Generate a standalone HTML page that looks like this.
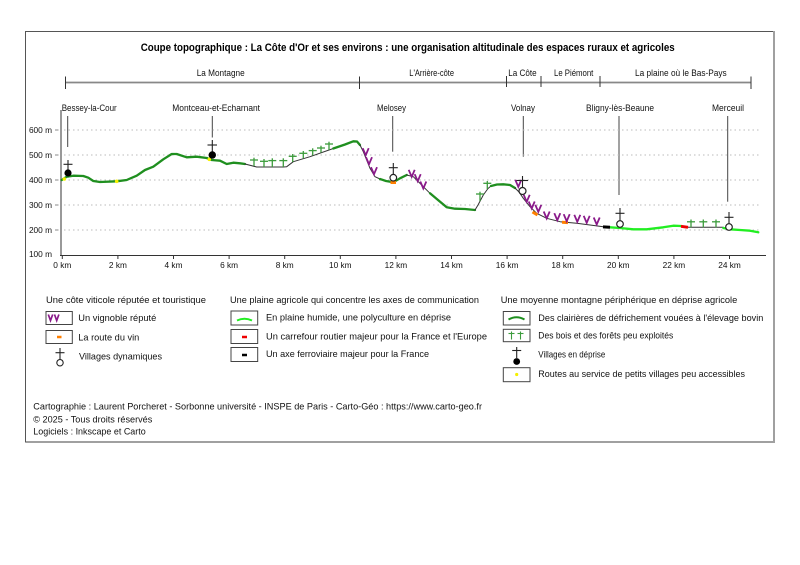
<!DOCTYPE html>
<html><head><meta charset="utf-8"><style>
html,body{margin:0;padding:0;background:#fff;}
svg{display:block;}
text{font-family:"Liberation Sans",sans-serif;fill:#111;}
</style></head><body>
<svg width="800" height="565" viewBox="0 0 800 565" xmlns="http://www.w3.org/2000/svg">
<rect x="0" y="0" width="800" height="565" fill="#fff"/>
<!-- frame -->
<rect x="25.5" y="31.5" width="748" height="410.5" fill="none" stroke="#555" stroke-width="1"/>
<line x1="26" y1="442" x2="774.5" y2="442" stroke="#a0a0a0" stroke-width="2"/>
<line x1="774" y1="31" x2="774" y2="443" stroke="#a0a0a0" stroke-width="2"/>

<!-- title -->
<text x="140.7" y="51" font-size="11" font-weight="bold" textLength="534" lengthAdjust="spacingAndGlyphs" style="fill:#000">Coupe topographique : La Côte d'Or et ses environs : une organisation altitudinale des espaces ruraux et agricoles</text>

<!-- top bar -->
<line x1="65" y1="82.5" x2="751" y2="82.5" stroke="#888" stroke-width="1.8"/>
<g stroke="#333" stroke-width="1">
<line x1="65.5" y1="76.5" x2="65.5" y2="89"/>
<line x1="359.5" y1="76.5" x2="359.5" y2="89"/>
<line x1="506.5" y1="76" x2="506.5" y2="87"/>
<line x1="541" y1="76" x2="541" y2="87"/>
<line x1="600" y1="76" x2="600" y2="87"/>
<line x1="751" y1="76.5" x2="751" y2="89"/>
</g>
<g font-size="9">
<text x="196.7" y="76" textLength="48" lengthAdjust="spacingAndGlyphs">La Montagne</text>
<text x="409.3" y="76" textLength="44.7" lengthAdjust="spacingAndGlyphs">L'Arrière-côte</text>
<text x="508.3" y="76" textLength="28.3" lengthAdjust="spacingAndGlyphs">La Côte</text>
<text x="554" y="76" textLength="39.3" lengthAdjust="spacingAndGlyphs">Le Piémont</text>
<text x="635" y="76" textLength="91.7" lengthAdjust="spacingAndGlyphs">La plaine où le Bas-Pays</text>
</g>

<!-- village labels -->
<g font-size="9">
<text x="61.7" y="111" textLength="55" lengthAdjust="spacingAndGlyphs">Bessey-la-Cour</text>
<text x="172.3" y="111" textLength="87.7" lengthAdjust="spacingAndGlyphs">Montceau-et-Echarnant</text>
<text x="377" y="111" textLength="29" lengthAdjust="spacingAndGlyphs">Melosey</text>
<text x="511" y="111" textLength="24" lengthAdjust="spacingAndGlyphs">Volnay</text>
<text x="586" y="111" textLength="68" lengthAdjust="spacingAndGlyphs">Bligny-lès-Beaune</text>
<text x="712" y="111" textLength="32" lengthAdjust="spacingAndGlyphs">Merceuil</text>
</g>
<g stroke="#444" stroke-width="1">
<line x1="67.7" y1="116" x2="67.7" y2="147"/>
<line x1="212.3" y1="116" x2="212.3" y2="137.5"/>
<line x1="392.7" y1="116" x2="392.7" y2="151.7"/>
<line x1="523.3" y1="116" x2="523.3" y2="156.7"/>
<line x1="619" y1="116" x2="619" y2="195"/>
<line x1="727.7" y1="116" x2="727.7" y2="201.7"/>
</g>

<!-- grid -->
<g stroke="#bbb" stroke-width="1" stroke-dasharray="1.5,3">
<line x1="64" y1="130" x2="760" y2="130"/>
<line x1="64" y1="155" x2="760" y2="155"/>
<line x1="64" y1="180" x2="760" y2="180"/>
<line x1="64" y1="205" x2="760" y2="205"/>
<line x1="64" y1="230" x2="760" y2="230"/>
</g>
<!-- axes -->
<line x1="61" y1="110" x2="61" y2="256" stroke="#999" stroke-width="2"/>
<line x1="60" y1="255.5" x2="766" y2="255.5" stroke="#333" stroke-width="1"/>
<g stroke="#888" stroke-width="1">
<line x1="55" y1="130" x2="58.5" y2="130"/>
<line x1="55" y1="155" x2="58.5" y2="155"/>
<line x1="55" y1="180" x2="58.5" y2="180"/>
<line x1="55" y1="205" x2="58.5" y2="205"/>
<line x1="55" y1="230" x2="58.5" y2="230"/>
</g>
<g font-size="8.3" text-anchor="end">
<text x="52" y="133">600 m</text>
<text x="52" y="158">500 m</text>
<text x="52" y="183">400 m</text>
<text x="52" y="208">300 m</text>
<text x="52" y="233">200 m</text>
<text x="52" y="257">100 m</text>
</g>
<g stroke="#333" stroke-width="1">
<line x1="62.3" y1="255.5" x2="62.3" y2="259"/>
<line x1="117.9" y1="255.5" x2="117.9" y2="259"/>
<line x1="173.5" y1="255.5" x2="173.5" y2="259"/>
<line x1="229.1" y1="255.5" x2="229.1" y2="259"/>
<line x1="284.7" y1="255.5" x2="284.7" y2="259"/>
<line x1="340.3" y1="255.5" x2="340.3" y2="259"/>
<line x1="395.9" y1="255.5" x2="395.9" y2="259"/>
<line x1="451.5" y1="255.5" x2="451.5" y2="259"/>
<line x1="507.1" y1="255.5" x2="507.1" y2="259"/>
<line x1="562.7" y1="255.5" x2="562.7" y2="259"/>
<line x1="618.3" y1="255.5" x2="618.3" y2="259"/>
<line x1="673.9" y1="255.5" x2="673.9" y2="259"/>
<line x1="729.5" y1="255.5" x2="729.5" y2="259"/>
</g>
<g font-size="8.3" text-anchor="middle">
<text x="62.3" y="268">0 km</text>
<text x="117.9" y="268">2 km</text>
<text x="173.5" y="268">4 km</text>
<text x="229.1" y="268">6 km</text>
<text x="284.7" y="268">8 km</text>
<text x="340.3" y="268">10 km</text>
<text x="395.9" y="268">12 km</text>
<text x="451.5" y="268">14 km</text>
<text x="507.1" y="268">16 km</text>
<text x="562.7" y="268">18 km</text>
<text x="618.3" y="268">20 km</text>
<text x="673.9" y="268">22 km</text>
<text x="729.5" y="268">24 km</text>
</g>

<!-- profile -->
<g fill="none" stroke-linejoin="round" stroke-linecap="round">
<polyline stroke="#1f8f1f" stroke-width="2.3" points="61.7,180 66.7,176.7 73.3,175.7 83.3,176 88.3,177.7 93.3,181 100,182 116.7,181.3 126.7,180 136.7,175.7 145,170 153.3,166.7 163.3,159.3 171.7,154 176.7,154 186.7,157.3 196.7,156.7 206.7,158 211.7,160 220,160.7 226.7,164 233.3,162.7 240,163.3 245,164"/>
<polyline stroke="#333" stroke-width="1" points="245,164 256.7,167 283.3,167 286.7,166.7 293.3,161.7 310,156.7 333.3,148.5"/>
<polyline stroke="#1f8f1f" stroke-width="2.3" points="333.3,148.5 345,144.5 353.3,141.3 357,141.5 360,145"/>
<polyline stroke="#333" stroke-width="1" points="360,145 363.3,151.7 370,168.3 375,176.7 380,179"/>
<polyline stroke="#1f8f1f" stroke-width="2.3" points="380,179 386,181 393.3,182.3 400,178.3 406.7,175"/>
<polyline stroke="#333" stroke-width="1" points="406.7,175 413.3,176.7 423.3,186.7 430,193.3"/>
<polyline stroke="#1f8f1f" stroke-width="2.3" points="430,193.3 438,200 446.7,207.3 455,208.7 465,209 475,210"/>
<polyline stroke="#333" stroke-width="1" points="475,210 478,205 483.3,195 488,188.5 491,186"/>
<polyline stroke="#1f8f1f" stroke-width="2.3" points="491,186 497,184.5 503.3,184.3 510,185 515,188"/>
<polyline stroke="#333" stroke-width="1" points="515,188 519,192 523.3,198.3 530,206.7 536.7,213.3 546.7,218.3 560,221.7 576.7,223.3 590,225 603.3,226.7"/>
<polyline stroke="#22ee22" stroke-width="2.3" points="610,227.3 620,228 633.3,229.3 646.7,229.3 663.3,227.3 673.3,225.7 681,226"/>
<polyline stroke="#333" stroke-width="1" points="688,227.3 723.3,227.3"/>
<polyline stroke="#22ee22" stroke-width="2.3" points="723.3,228 730,229.3 740,230 750,230.7 758.3,232.3"/>
</g>
<!-- markers -->
<line x1="603" y1="226.9" x2="610" y2="227.2" stroke="#000" stroke-width="3"/>
<line x1="681" y1="226.3" x2="688" y2="227.3" stroke="#e00" stroke-width="3"/>
<g stroke="#ff7f00" stroke-width="3">
<line x1="390.5" y1="182.5" x2="396" y2="182.5"/>
<line x1="532.5" y1="212" x2="537.5" y2="215"/>
<line x1="562" y1="222.3" x2="568" y2="222.6"/>
</g>
<g fill="#f5f000">
<circle cx="64.3" cy="179" r="1.8"/>
<circle cx="116.7" cy="181.3" r="1.8"/>
<circle cx="209.3" cy="159.3" r="1.8"/>
</g>

<!-- trees -->
<g stroke="#3c9c3c" stroke-width="1.3">
<line x1="254" y1="157.7" x2="254" y2="166"/><line x1="250" y1="160" x2="258" y2="160"/>
<line x1="264" y1="159" x2="264" y2="167"/><line x1="260" y1="161.3" x2="268" y2="161.3"/>
<line x1="272.3" y1="158.3" x2="272.3" y2="167"/><line x1="268.3" y1="160.6" x2="276.3" y2="160.6"/>
<line x1="283.3" y1="158.3" x2="283.3" y2="167"/><line x1="279.3" y1="160.6" x2="287.3" y2="160.6"/>
<line x1="292.7" y1="154" x2="292.7" y2="162"/><line x1="288.7" y1="156.3" x2="296.7" y2="156.3"/>
<line x1="303.3" y1="151" x2="303.3" y2="158.4"/><line x1="299.3" y1="153.3" x2="307.3" y2="153.3"/>
<line x1="312.7" y1="148.3" x2="312.7" y2="155.3"/><line x1="308.7" y1="150.6" x2="316.7" y2="150.6"/>
<line x1="321" y1="145.7" x2="321" y2="152.6"/><line x1="317" y1="148" x2="325" y2="148"/>
<line x1="329" y1="141.7" x2="329" y2="149.9"/><line x1="325" y1="144" x2="333" y2="144"/>
<line x1="480" y1="191.7" x2="480" y2="201"/><line x1="476" y1="194" x2="484" y2="194"/>
<line x1="487.3" y1="181" x2="487.3" y2="189"/><line x1="483.3" y1="183.3" x2="491.3" y2="183.3"/>
<line x1="691" y1="219.5" x2="691" y2="227.3"/><line x1="687" y1="221.8" x2="695" y2="221.8"/>
<line x1="703.3" y1="219.5" x2="703.3" y2="227.3"/><line x1="699.3" y1="221.8" x2="707.3" y2="221.8"/>
<line x1="716" y1="219.5" x2="716" y2="227.3"/><line x1="712" y1="221.8" x2="720" y2="221.8"/>
</g>

<!-- vines -->
<g fill="none" stroke="#8a1a8a" stroke-width="1.8" stroke-linejoin="miter">
<path d="M362.7,148.2 L365.7,155.2 L368.7,148.2"/>
<path d="M366,157.2 L369,164.2 L372,157.2"/>
<path d="M371,167.2 L374,174.2 L377,167.2"/>
<path d="M408.7,169.8 L411.7,176.8 L414.7,169.8"/>
<path d="M414.7,174.2 L417.7,181.2 L420.7,174.2"/>
<path d="M420.3,181.5 L423.3,188.5 L426.3,181.5"/>
<path d="M515.3,179.8 L518.3,186.8 L521.3,179.8"/>
<path d="M523.7,194.8 L526.7,201.8 L529.7,194.8"/>
<path d="M528.7,201.5 L531.7,208.5 L534.7,201.5"/>
<path d="M535.3,204.8 L538.3,211.8 L541.3,204.8"/>
<path d="M543.7,211.5 L546.7,218.5 L549.7,211.5"/>
<path d="M554.3,213.2 L557.3,220.2 L560.3,213.2"/>
<path d="M563.7,214.2 L566.7,221.2 L569.7,214.2"/>
<path d="M574.3,214.8 L577.3,221.8 L580.3,214.8"/>
<path d="M583.7,215.8 L586.7,222.8 L589.7,215.8"/>
<path d="M593.7,217.5 L596.7,224.5 L599.7,217.5"/>
</g>

<!-- villages -->
<g stroke="#222" stroke-width="1.1">
<line x1="68" y1="160" x2="68" y2="170"/><line x1="63.5" y1="164.3" x2="72.5" y2="164.3"/>
<line x1="212.3" y1="140" x2="212.3" y2="152"/><line x1="207.5" y1="145" x2="217" y2="145"/>
<line x1="393.3" y1="163" x2="393.3" y2="174.3"/><line x1="388.8" y1="167.7" x2="397.8" y2="167.7"/>
<line x1="522.5" y1="176" x2="522.5" y2="187.5"/><line x1="516.5" y1="180.5" x2="528" y2="180.5"/>
<line x1="620" y1="208" x2="620" y2="220.7"/><line x1="615.5" y1="213.3" x2="624.5" y2="213.3"/>
<line x1="729" y1="212" x2="729" y2="223.7"/><line x1="724.5" y1="217.3" x2="733.5" y2="217.3"/>
</g>
<circle cx="68" cy="173" r="3.6" fill="#000"/>
<circle cx="212.3" cy="155" r="3.7" fill="#000"/>
<g fill="#fff" stroke="#222" stroke-width="1.2">
<circle cx="393.3" cy="177.7" r="3.3"/>
<circle cx="522.5" cy="191" r="3.5"/>
<circle cx="620" cy="224" r="3.3"/>
<circle cx="729" cy="227" r="3.3"/>
</g>

<!-- legend -->
<g font-size="9.5">
<text x="46" y="303" textLength="160" lengthAdjust="spacingAndGlyphs">Une côte viticole réputée et touristique</text>
<text x="78.3" y="321" textLength="78" lengthAdjust="spacingAndGlyphs">Un vignoble réputé</text>
<text x="78.3" y="340.3" textLength="61" lengthAdjust="spacingAndGlyphs">La route du vin</text>
<text x="79" y="359.3" textLength="83" lengthAdjust="spacingAndGlyphs">Villages dynamiques</text>

<text x="230" y="303" textLength="249" lengthAdjust="spacingAndGlyphs">Une plaine agricole qui concentre les axes de communication</text>
<text x="266" y="320.5" textLength="185" lengthAdjust="spacingAndGlyphs">En plaine humide, une polyculture en déprise</text>
<text x="266" y="339.3" textLength="221" lengthAdjust="spacingAndGlyphs">Un carrefour routier majeur pour la France et l'Europe</text>
<text x="266" y="357" textLength="163" lengthAdjust="spacingAndGlyphs">Un axe ferroviaire majeur pour la France</text>

<text x="500.7" y="303" textLength="236.6" lengthAdjust="spacingAndGlyphs">Une moyenne montagne périphérique en déprise agricole</text>
<text x="538.3" y="321" textLength="225" lengthAdjust="spacingAndGlyphs">Des clairières de défrichement vouées à l'élevage bovin</text>
<text x="538.3" y="338.7" textLength="135" lengthAdjust="spacingAndGlyphs">Des bois et des forêts peu exploités</text>
<text x="538.3" y="357.7" textLength="67" lengthAdjust="spacingAndGlyphs">Villages en déprise</text>
<text x="538.3" y="377" textLength="206.7" lengthAdjust="spacingAndGlyphs">Routes au service de petits villages peu accessibles</text>

<text x="33.3" y="409.3" textLength="448.7" lengthAdjust="spacingAndGlyphs">Cartographie : Laurent Porcheret - Sorbonne université - INSPE de Paris - Carto-Géo : https://www.carto-geo.fr</text>
<text x="33.3" y="422.3" textLength="119" lengthAdjust="spacingAndGlyphs">© 2025 - Tous droits réservés</text>
<text x="33.3" y="434.3" textLength="112.4" lengthAdjust="spacingAndGlyphs">Logiciels : Inkscape et Carto</text>
</g>

<g fill="#fff" stroke="#444" stroke-width="1">
<rect x="46" y="311.5" width="26.3" height="13"/>
<rect x="46" y="330.5" width="26.3" height="13"/>
<rect x="231" y="311" width="26.7" height="14"/>
<rect x="231" y="329.5" width="26.7" height="14"/>
<rect x="231" y="347.5" width="26.7" height="14"/>
<rect x="503.3" y="311.5" width="26.7" height="13.5"/>
<rect x="503.3" y="329.3" width="26.7" height="12.4"/>
<rect x="503.3" y="367.7" width="26.7" height="14"/>
</g>
<g fill="none" stroke="#8a1a8a" stroke-width="1.7">
<path d="M48.3,314.5 L50.5,320.5 L52.7,314.5"/>
<path d="M54.5,314.5 L56.7,320.5 L58.9,314.5"/>
</g>
<line x1="57" y1="337" x2="61.5" y2="337" stroke="#ff7f00" stroke-width="2.5"/>
<path d="M237,320.5 Q244.5,317 252,320.5" fill="none" stroke="#22ee22" stroke-width="2"/>
<line x1="242" y1="337" x2="247" y2="337" stroke="#e00" stroke-width="2.5"/>
<line x1="242" y1="355" x2="247" y2="355" stroke="#000" stroke-width="2.5"/>
<path d="M508.5,319.5 Q516.5,315 524.5,319.5" fill="none" stroke="#1f8f1f" stroke-width="2"/>
<g stroke="#3c9c3c" stroke-width="1.1">
<line x1="511.5" y1="331.5" x2="511.5" y2="339.5"/><line x1="508.5" y1="333.5" x2="514.5" y2="333.5"/>
<line x1="520.5" y1="331.5" x2="520.5" y2="339.5"/><line x1="517.5" y1="333.5" x2="523.5" y2="333.5"/>
</g>
<circle cx="516.7" cy="374.5" r="1.6" fill="#f5f000"/>
<g stroke="#222" stroke-width="1.1">
<line x1="60" y1="348" x2="60" y2="359.5"/><line x1="55.5" y1="352.7" x2="64.5" y2="352.7"/>
<line x1="516.7" y1="347" x2="516.7" y2="358"/><line x1="512.2" y1="350.5" x2="521.2" y2="350.5"/>
</g>
<circle cx="60" cy="362.7" r="3.2" fill="#fff" stroke="#222" stroke-width="1.1"/>
<circle cx="516.7" cy="361.5" r="3.4" fill="#000"/>
</svg>
</body></html>
